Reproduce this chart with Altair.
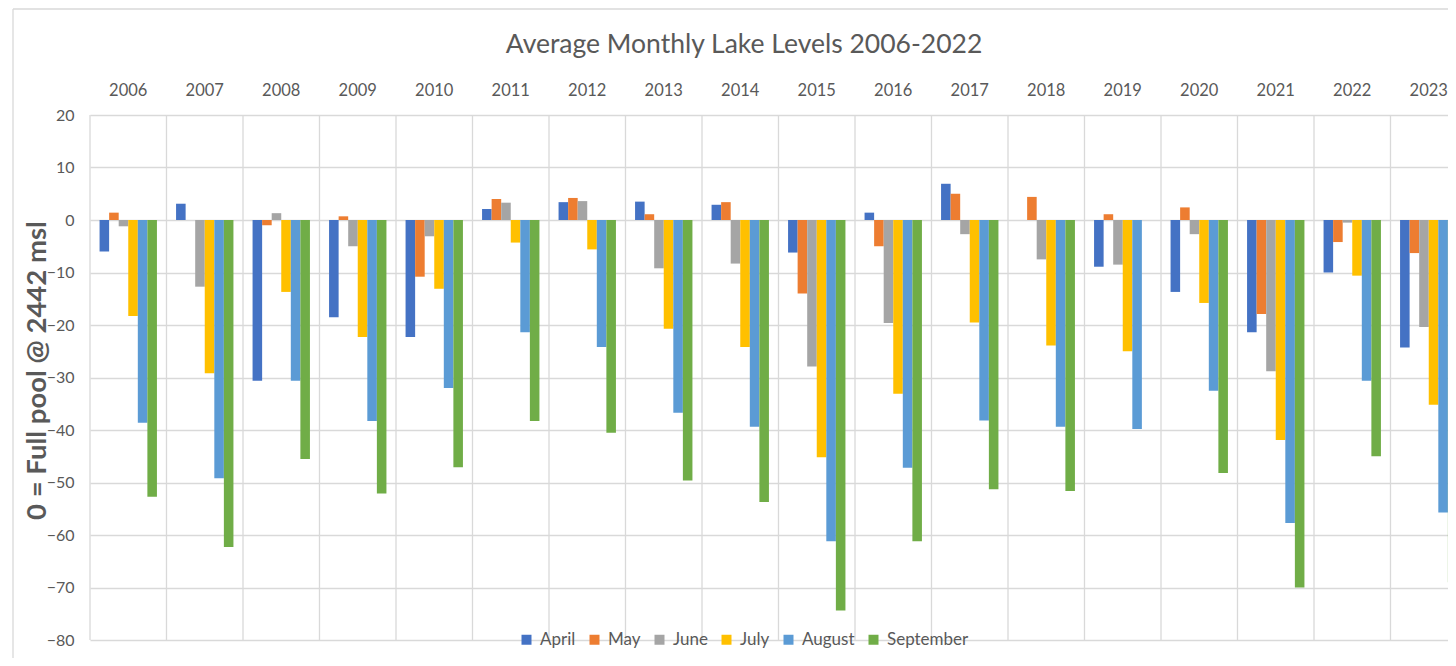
import altair as alt
import pandas as pd

title_text = "Average Monthly Lake Levels 2006-2022"
y_title = "0 = Full pool @ 2442 msl"
years = list(range(2006, 2024))
months = ["April", "May", "June", "July", "August", "September"]
colors = ["#4472C4", "#ED7D31", "#A5A5A5", "#FFC000", "#5B9BD5", "#70AD47"]

april = [-6.0, 3.1, -30.6, -18.5, -22.3, 2.1, 3.4, 3.5, 2.9, -6.2, 1.4, 6.9, None, -8.9, -13.7, -21.4, -10.0, -24.3]
may = [1.4, None, -1.0, 0.7, -10.8, 4.0, 4.2, 1.1, 3.4, -14.0, -5.0, 5.0, 4.4, 1.1, 2.4, -17.9, -4.2, -6.3]
june = [-1.2, -12.7, 1.3, -5.0, -3.1, 3.3, 3.6, -9.2, -8.3, -27.9, -19.6, -2.7, -7.5, -8.5, -2.7, -28.8, -0.5, -20.4]
july = [-18.3, -29.2, -13.7, -22.3, -13.1, -4.3, -5.6, -20.7, -24.2, -45.2, -33.1, -19.5, -23.9, -25.0, -15.8, -41.9, -10.6, -35.2]
august = [-38.6, -49.2, -30.6, -38.3, -32.0, -21.4, -24.2, -36.7, -39.4, -61.2, -47.2, -38.2, -39.4, -39.8, -32.5, -57.7, -30.6, -55.7]
september = [-52.7, -62.3, -45.5, -52.1, -47.1, -38.3, -40.5, -49.6, -53.7, -74.4, -61.2, -51.3, -51.6, None, -48.2, -70.0, -45.0, -69.0]

series = [april, may, june, july, august, september]
rows = []
for m, vals in zip(months, series):
    for y, v in zip(years, vals):
        if v is not None:
            rows.append({"year": y, "month": m, "value": v})
df = pd.DataFrame(rows)
year_df = pd.DataFrame({"year": years})

FONT = "Lato"
TXT = "#595959"
GRID = "#d9d9d9"

xscale = alt.Scale(range=[0, 1377], paddingInner=0, paddingOuter=0)

bars = alt.Chart(df).mark_bar().encode(
    x=alt.X("year:O", scale=xscale, axis=None),
    xOffset=alt.XOffset("month:N", sort=months,
                        scale=alt.Scale(paddingInner=0, paddingOuter=1)),
    y=alt.Y("value:Q", scale=alt.Scale(domain=[-80, 20], nice=False, zero=True),
            axis=alt.Axis(values=list(range(-80, 30, 10)), title=y_title,
                          domain=False, ticks=False, grid=True, gridColor=GRID, gridWidth=1.3,
                          labelFont=FONT, labelFontSize=16, labelColor=TXT, labelPadding=16,
                          titleFont=FONT, titleFontSize=27.5, titleFontWeight="bold",
                          titleColor=TXT, titleX=-53, titleY=255, titleAlign="center",
                          titleBaseline="middle", titleAngle=270)),
    color=alt.Color("month:N", sort=months,
                    scale=alt.Scale(domain=months, range=colors),
                    legend=alt.Legend(orient="none", legendX=428, legendY=516,
                                      direction="horizontal", title=None,
                                      symbolType="square", symbolSize=100,
                                      symbolStrokeWidth=0, labelFont=FONT,
                                      labelFontSize=17, labelColor=TXT,
                                      columnPadding=10, labelOffset=5)),
)

vgrid = alt.Chart(year_df).mark_rule(color=GRID, strokeWidth=1.3).encode(
    x=alt.X("year:O", bandPosition=0, axis=None, scale=xscale))

year_labels = alt.Chart(year_df).mark_text(
    font=FONT, fontSize=16.5, color=TXT, align="center", baseline="alphabetic"
).encode(
    x=alt.X("year:O", scale=xscale, axis=None),
    y=alt.value(-19),
    text=alt.Text("year:O"),
)

title = alt.Chart(pd.DataFrame({"t": [title_text]})).mark_text(
    font=FONT, fontSize=26.5, color=TXT, align="center", baseline="alphabetic"
).encode(x=alt.value(654), y=alt.value(-62), text="t:N")

frame_df = pd.DataFrame({"k": [0]})
frame_left = alt.Chart(frame_df).mark_rule(color=GRID, strokeWidth=1.3).encode(
    x=alt.value(-77), y=alt.value(-106), y2=alt.value(560))
frame_top = alt.Chart(frame_df).mark_rule(color=GRID, strokeWidth=1.3).encode(
    x=alt.value(-77), x2=alt.value(1400), y=alt.value(-106))

chart = alt.layer(frame_left, frame_top, vgrid, bars, year_labels, title).properties(
    width=1358, height=525,
    autosize=alt.AutoSizeParams(type="none"),
    padding={"left": 82, "top": 107, "right": 0, "bottom": 18},
).configure_view(stroke=None)

chart.save("out.html", embed_options={"renderer": "svg", "actions": False})
